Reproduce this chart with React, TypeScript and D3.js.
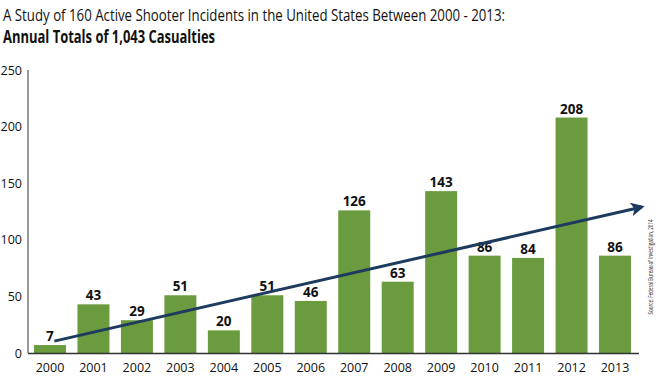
import React from "react";
import * as d3 from "d3";

const years = ["2000","2001","2002","2003","2004","2005","2006","2007","2008","2009","2010","2011","2012","2013"];
const casualties = [7,43,29,51,20,51,46,126,63,143,86,84,208,86];
const yTicks = [0,50,100,150,200,250];
const trendIndex = [0.1, 13.62];
const trendValue = [10.5, 129];
const titleLine1 = "A Study of 160 Active Shooter Incidents in the United States Between 2000 - 2013:";
const titleLine2 = "Annual Totals of 1,043 Casualties";
const sourceText = "Source: Federal Bureau of Investigation, 2014";

const W = 663, H = 379;
const FONT = "'Open Sans', 'Noto Sans', sans-serif";

export default function App() {
  const x = d3.scaleBand<string>().domain(years).range([28, 637]).paddingInner(0.264).paddingOuter(0.138);
  const y = d3.scaleLinear().domain([0, 250]).range([353, 70]);
  const step = x.step();
  const x0 = (x(years[0]) as number) + x.bandwidth() / 2;
  const xi = (i: number) => x0 + i * step;
  const line = d3.line<number>().x((d, i) => xi(trendIndex[i])).y((d) => y(d));

  return (
    <svg width={W} height={H} style={{ position: "fixed", left: 0, top: 0, display: "block", background: "#fff" }}>
      <defs>
        <marker id="arr" viewBox="0 0 10 10" refX="8" refY="5" markerWidth="4.6" markerHeight="4.6" orient="auto" markerUnits="strokeWidth">
          <path d="M0,0 L10,5 L0,10 L2.5,5 Z" fill="#1c3b5e" />
        </marker>
      </defs>
      <text x={3} y={20.5} fontFamily={FONT} fontSize={17} fill="#111" textLength={502} lengthAdjust="spacingAndGlyphs">{titleLine1}</text>
      <text x={3} y={43} fontFamily={FONT} fontSize={18} fontWeight="bold" fill="#111" textLength={212} lengthAdjust="spacingAndGlyphs">{titleLine2}</text>

      {yTicks.map((t) => (
        <text key={t} x={22} y={y(t) + 4.5} textAnchor="end" fontFamily={FONT} fontSize={12.5} fill="#111">{t}</text>
      ))}
      <line x1={28} x2={28} y1={70} y2={353} stroke="#777" strokeWidth={1.5} />

      {years.map((yr, i) => (
        <g key={yr}>
          <rect x={x(yr)} y={y(casualties[i])} width={x.bandwidth()} height={353 - y(casualties[i])} fill="#6a9c3f" />
          <text x={(x(yr) as number) + x.bandwidth() / 2} y={y(casualties[i]) - 4} textAnchor="middle" fontFamily={FONT} fontSize={13.5} fontWeight="bold" fill="#111">{casualties[i]}</text>
          <text x={(x(yr) as number) + x.bandwidth() / 2} y={372} textAnchor="middle" fontFamily={FONT} fontSize={12.5} fill="#111">{yr}</text>
        </g>
      ))}
      <line x1={28} x2={639} y1={353.5} y2={353.5} stroke="#333" strokeWidth={1.5} />

      <path d={line(trendValue) || ""} fill="none" stroke="#1c3b5e" strokeWidth={3} markerEnd="url(#arr)" />

      <text transform={`translate(653,267) rotate(-90)`} textAnchor="middle" fontFamily={FONT} fontSize={8} fill="#222" textLength={95} lengthAdjust="spacingAndGlyphs">{sourceText}</text>
    </svg>
  );
}
